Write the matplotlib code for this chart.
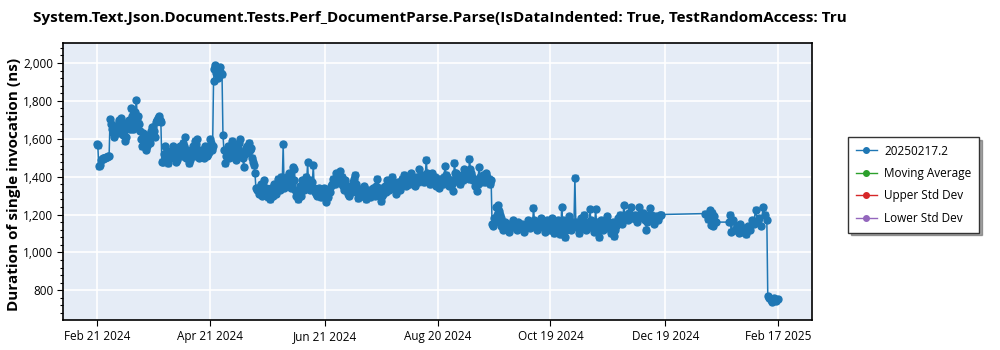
import matplotlib
matplotlib.use("Agg")
import matplotlib.pyplot as plt
import matplotlib.dates as mdates
from matplotlib.lines import Line2D
from matplotlib.ticker import FuncFormatter, MultipleLocator
import numpy as np
import pandas as pd

plt.rcParams['font.family'] = ['Open Sans', 'DejaVu Sans']

title_text = "System.Text.Json.Document.Tests.Perf_DocumentParse.Parse(IsDataIndented: True, TestRandomAccess: Tru"
y_label = "Duration of single invocation (ns)"
series_name = "20250217.2"
legend_names = ["20250217.2", "Moving Average", "Upper Std Dev", "Lower Std Dev"]
legend_colors = ["#1f77b4", "#2ca02c", "#d62728", "#9467bd"]

# two runs per day (00:00 and 12:00) from 2024-02-21 to 2024-12-16
main_start = "2024-02-21"
vals_feb_apr = [1570, 1455, 1490, 1495, 1498, 1502, 1508,
                1705, 1650, 1610, 1670, 1630, 1690, 1710, 1620, 1590, 1660,
                1700, 1760, 1650, 1690, 1805, 1720, 1640, 1560, 1600, 1540,
                1620, 1580, 1640, 1660, 1610, 1700, 1720,
                1690, 1480, 1560, 1500, 1470, 1520, 1540, 1500, 1480, 1530,
                1560, 1510, 1580, 1610, 1540, 1470, 1520, 1560, 1590, 1600,
                1540, 1510, 1530, 1500, 1550, 1520, 1600, 1540]
vals_feb_apr_b = [1565, 1460, 1492, 1497, 1500, 1504, 1510,
                  1680, 1630, 1660, 1640, 1700, 1650, 1680, 1640, 1610, 1690,
                  1650, 1720, 1670, 1740, 1700, 1680, 1600, 1630, 1580, 1560,
                  1600, 1620, 1660, 1640, 1690, 1710, 1700,
                  1480, 1520, 1490, 1530, 1500, 1510, 1560, 1520, 1490, 1550,
                  1530, 1540, 1560, 1500, 1520, 1490, 1540, 1510, 1570, 1530,
                  1500, 1540, 1520, 1560, 1510, 1530, 1580, 1560]
vals_spike = [1905, 1990, 1960, 1935, 1945]
vals_spike_b = [1970, 1950, 1920, 1980, 1940]
vals_apr_jun = [1620, 1470, 1540, 1500, 1560, 1590, 1520, 1490, 1550, 1600,
                1530, 1450, 1540, 1560, 1580, 1550, 1480, 1420,
                1330, 1310, 1360, 1300, 1380, 1340, 1290, 1280, 1330, 1360,
                1310, 1390, 1350, 1400, 1570, 1360, 1400, 1420, 1340, 1450,
                1440, 1300, 1280, 1350, 1380, 1330, 1400, 1475, 1380, 1350,
                1460, 1320, 1300, 1340, 1290, 1310]
vals_apr_jun_b = [1540, 1510, 1560, 1530, 1520, 1560, 1500, 1540, 1580, 1520,
                  1500, 1520, 1550, 1530, 1540, 1500, 1460, 1340,
                  1340, 1320, 1330, 1350, 1310, 1300, 1330, 1340, 1300, 1320,
                  1350, 1360, 1330, 1370, 1340, 1380, 1350, 1390, 1360, 1380,
                  1330, 1310, 1320, 1300, 1340, 1360, 1380, 1350, 1330, 1370,
                  1340, 1310, 1330, 1300, 1320, 1340]
vals_jun_aug = [1300, 1265, 1290, 1320, 1360, 1380, 1420, 1390, 1430, 1400,
                1350, 1380, 1330, 1300, 1350, 1370, 1410, 1340, 1285, 1320,
                1300, 1350, 1280, 1330, 1290, 1310, 1340, 1300, 1390, 1320,
                1270, 1310, 1350, 1380, 1330, 1360, 1400, 1340, 1310, 1370,
                1330, 1390, 1410, 1350, 1380, 1360, 1420, 1390, 1350, 1400,
                1440, 1380, 1410, 1370, 1490, 1400, 1360, 1420, 1390, 1350]
vals_jun_aug_b = [1310, 1290, 1330, 1350, 1390, 1360, 1400, 1410, 1380, 1360,
                  1330, 1350, 1310, 1340, 1320, 1390, 1360, 1310, 1330, 1300,
                  1340, 1310, 1320, 1300, 1330, 1340, 1320, 1350, 1330, 1340,
                  1300, 1340, 1320, 1360, 1350, 1340, 1370, 1360, 1340, 1350,
                  1360, 1370, 1380, 1370, 1360, 1390, 1380, 1370, 1380, 1370,
                  1400, 1390, 1380, 1400, 1420, 1380, 1390, 1370, 1400, 1380]
vals_aug_sep = [1370, 1340, 1390, 1360, 1456, 1400, 1350, 1380, 1325, 1474,
                1420, 1390, 1360, 1410, 1440, 1400, 1430, 1495, 1420, 1380,
                1350, 1325, 1452, 1370, 1410, 1390, 1420, 1380, 1360]
vals_aug_sep_b = [1390, 1370, 1380, 1400, 1410, 1380, 1370, 1360, 1380, 1420,
                  1400, 1370, 1390, 1380, 1400, 1420, 1390, 1440, 1400, 1390,
                  1370, 1360, 1400, 1390, 1380, 1370, 1400, 1390, 1380]
vals_sep_dec = [1150, 1180, 1240, 1250, 1200, 1140, 1120, 1160, 1130, 1110,
                1150, 1170, 1140, 1120, 1160, 1130, 1150, 1110, 1140, 1170,
                1130, 1150, 1236, 1160, 1120, 1140, 1180, 1150, 1110, 1170,
                1140,
                1120, 1180, 1100, 1150, 1170, 1095, 1240, 1160, 1080, 1140,
                1190, 1120, 1160, 1395, 1150, 1100, 1180, 1130, 1200, 1120,
                1160, 1230, 1140, 1110, 1230, 1150, 1080, 1170, 1120, 1150,
                1190, 1130, 1100, 1160, 1085, 1140, 1180, 1200, 1150, 1250,
                1190, 1170, 1210, 1240, 1180, 1200, 1160, 1240, 1190, 1210,
                1170, 1120, 1200, 1235, 1180, 1150, 1190, 1170, 1195]
vals_sep_dec_b = [1140, 1160, 1200, 1220, 1180, 1150, 1130, 1140, 1150, 1130,
                  1140, 1150, 1130, 1140, 1150, 1140, 1130, 1140, 1150, 1140,
                  1150, 1140, 1170, 1140, 1130, 1150, 1160, 1140, 1130, 1150,
                  1130,
                  1150, 1140, 1130, 1160, 1140, 1120, 1170, 1140, 1120, 1150,
                  1160, 1140, 1150, 1160, 1130, 1140, 1150, 1140, 1160, 1130,
                  1150, 1170, 1130, 1140, 1160, 1130, 1120, 1150, 1140, 1130,
                  1160, 1140, 1130, 1150, 1120, 1150, 1170, 1180, 1170, 1200,
                  1180, 1190, 1200, 1190, 1180, 1190, 1180, 1200, 1190, 1180,
                  1190, 1160, 1180, 1200, 1190, 1170, 1180, 1190, 1200]

# sparse results in 2025
dates_2025 = ["2025-01-09 00:00", "2025-01-11 00:00", "2025-01-12 00:00", "2025-01-12 12:00",
              "2025-01-13 00:00", "2025-01-13 12:00", "2025-01-14 00:00", "2025-01-15 00:00",
              "2025-01-22 00:00", "2025-01-22 12:00", "2025-01-23 00:00", "2025-01-24 00:00",
              "2025-01-25 00:00", "2025-01-26 00:00", "2025-01-27 00:00", "2025-01-28 00:00",
              "2025-01-29 00:00", "2025-01-30 00:00", "2025-01-31 00:00", "2025-02-01 00:00",
              "2025-02-02 00:00", "2025-02-03 00:00", "2025-02-04 00:00", "2025-02-05 00:00",
              "2025-02-06 00:00", "2025-02-07 00:00", "2025-02-08 00:00", "2025-02-09 00:00",
              "2025-02-10 00:00", "2025-02-11 00:00", "2025-02-11 12:00", "2025-02-12 00:00",
              "2025-02-13 00:00", "2025-02-14 00:00", "2025-02-15 00:00", "2025-02-16 00:00",
              "2025-02-17 00:00"]
vals_2025 = [1205, 1175, 1225, 1145, 1210, 1140, 1190, 1160,
             1160, 1200, 1110, 1170, 1120, 1140, 1105, 1150,
             1110, 1130, 1095, 1140, 1120, 1170, 1150, 1226,
             1160, 1180, 1140, 1238, 1200, 1170, 770, 760,
             750, 740, 760, 745, 755]
err_ns = 12

x_tick_dates = ["2024-02-21", "2024-04-21", "2024-06-21", "2024-08-20",
                "2024-10-19", "2024-12-19", "2025-02-17"]

run_a = vals_feb_apr + vals_spike + vals_apr_jun + vals_jun_aug + vals_aug_sep + vals_sep_dec
run_b = vals_feb_apr_b + vals_spike_b + vals_apr_jun_b + vals_jun_aug_b + vals_aug_sep_b + vals_sep_dec_b
days = pd.date_range(main_start, periods=len(run_a), freq="D")
frame = pd.concat([
    pd.DataFrame({"t": days, "v": run_a}),
    pd.DataFrame({"t": days + pd.Timedelta(hours=12), "v": run_b}),
    pd.DataFrame({"t": pd.to_datetime(dates_2025, format="%Y-%m-%d %H:%M"), "v": vals_2025}),
]).sort_values("t", kind="stable")

fig = plt.figure(figsize=(10, 3.5), dpi=100)
ax = fig.add_axes([0.063, 0.0857, 0.749, 0.791])
ax.set_facecolor("#E5ECF6")

ax.errorbar(frame["t"], frame["v"], yerr=err_ns, fmt='-o', color="#1f77b4",
            ms=5, lw=1.1, elinewidth=1.0, capsize=2.5, capthick=1.0,
            zorder=3)

ax.set_xlim(pd.Timestamp("2024-02-03"), pd.Timestamp("2025-03-07"))
ax.set_ylim(643, 2105)
ax.set_xticks(pd.to_datetime(x_tick_dates))
ax.xaxis.set_major_formatter(mdates.DateFormatter("%b %d %Y"))
ax.yaxis.set_major_locator(MultipleLocator(200))
ax.yaxis.set_minor_locator(MultipleLocator(40))
ax.yaxis.set_major_formatter(FuncFormatter(lambda v, p: f"{int(v):,}"))
ax.grid(True, which="major", color="white", lw=1.2, zorder=0)
ax.set_axisbelow(True)
ax.tick_params(axis="both", labelsize=8.5, length=4, width=0.8, color="black", pad=3)
ax.tick_params(axis="y", which="minor", length=2.5, width=0.8)
for s in ax.spines.values():
    s.set_color("black")
    s.set_linewidth(1.2)

fig.text(0.033, 0.949, title_text, fontsize=11, fontweight="bold",
         ha="left", va="center")
fig.text(0.014, 0.474, y_label, fontsize=11, fontweight="bold",
         rotation=90, ha="center", va="center")

handles = [Line2D([0], [0], color=c, marker='o', ms=4, lw=1) for c in legend_colors]
leg = fig.legend(handles, legend_names, loc="upper left",
                 bbox_to_anchor=(0.848, 0.609), borderaxespad=0, fontsize=8.5,
                 frameon=True, fancybox=False, shadow=True, handlelength=1.8,
                 handletextpad=0.6, labelspacing=0.8, borderpad=0.65)
leg.get_frame().set_edgecolor("#333333")
leg.get_frame().set_linewidth(1.0)

fig.savefig("out.png", dpi=100)
